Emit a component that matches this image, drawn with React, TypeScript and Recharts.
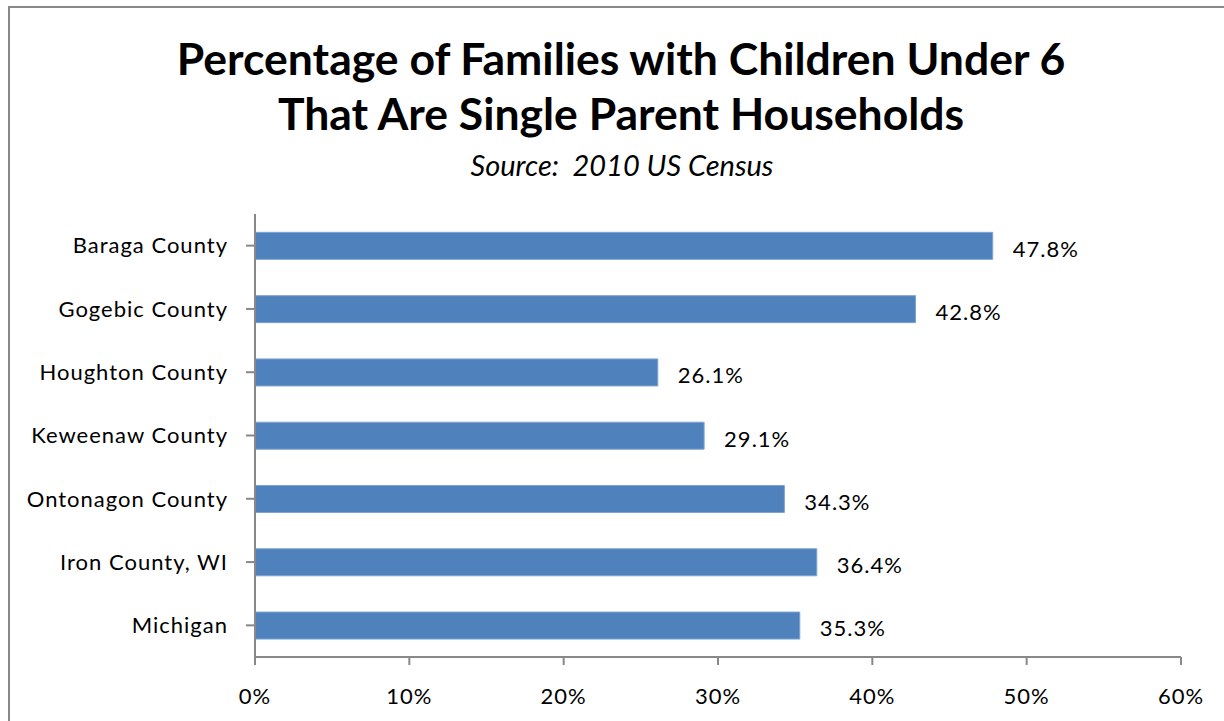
import { BarChart, Bar, XAxis, YAxis, LabelList } from 'recharts';

const counties = [
  'Baraga County',
  'Gogebic County',
  'Houghton County',
  'Keweenaw County',
  'Ontonagon County',
  'Iron County, WI',
  'Michigan',
];
const singleParentPct = [47.8, 42.8, 26.1, 29.1, 34.3, 36.4, 35.3];
const xTicks = [0, 10, 20, 30, 40, 50, 60];

const data = counties.map((name, i) => ({ name, value: singleParentPct[i] }));

const FONT = 'Lato, "Open Sans", sans-serif';
const tickStyle = { fontSize: 22, fill: '#000', fontFamily: FONT, letterSpacing: 1 };

export default function App() {
  return (
    <div
      style={{
        position: 'absolute',
        left: 0,
        top: 0,
        width: 1224,
        height: 721,
        overflow: 'hidden',
        background: '#fff',
        fontFamily: FONT,
      }}
    >
      {/* frame, only left and top edges fall inside the picture */}
      <div
        style={{
          position: 'absolute',
          left: 8,
          top: 6,
          width: 1260,
          height: 760,
          border: '2px solid #888',
        }}
      />
      <div
        style={{
          position: 'absolute',
          left: 0,
          top: 30,
          width: 1242,
          textAlign: 'center',
          fontWeight: 700,
          fontSize: 44.5,
          lineHeight: '55px',
          color: '#000',
        }}
      >
        Percentage of Families with Children Under 6
        <br />
        That Are Single Parent Households
      </div>
      <div
        style={{
          position: 'absolute',
          left: 0,
          top: 147,
          width: 1244,
          textAlign: 'center',
          fontStyle: 'italic',
          fontSize: 29,
          color: '#000',
        }}
      >
        Source:&nbsp; 2010 US Census
      </div>
      <div style={{ position: 'absolute', left: 0, top: 0 }}>
        <BarChart
          width={1224}
          height={721}
          data={data}
          layout="vertical"
          margin={{ top: 214, right: 43, left: 0, bottom: 0 }}
          barCategoryGap="29%"
        >
          <XAxis
            type="number"
            domain={[0, 60]}
            ticks={xTicks}
            tickFormatter={(v) => `${v}%`}
            stroke="#888"
            strokeWidth={2}
            tickSize={8}
            tickMargin={23}
            height={64}
            tick={tickStyle}
          />
          <YAxis
            type="category"
            dataKey="name"
            width={255}
            stroke="#888"
            strokeWidth={2}
            tickSize={9}
            tickMargin={18}
            tick={tickStyle}
          />
          <Bar
            dataKey="value"
            fill="#4f81bd"
            stroke="#7ea3d0"
            strokeWidth={1}
            isAnimationActive={false}
          >
            <LabelList
              dataKey="value"
              position="right"
              offset={20}
              dy={3}
              formatter={(v: number) => `${v.toFixed(1)}%`}
              style={tickStyle}
            />
          </Bar>
        </BarChart>
      </div>
    </div>
  );
}
